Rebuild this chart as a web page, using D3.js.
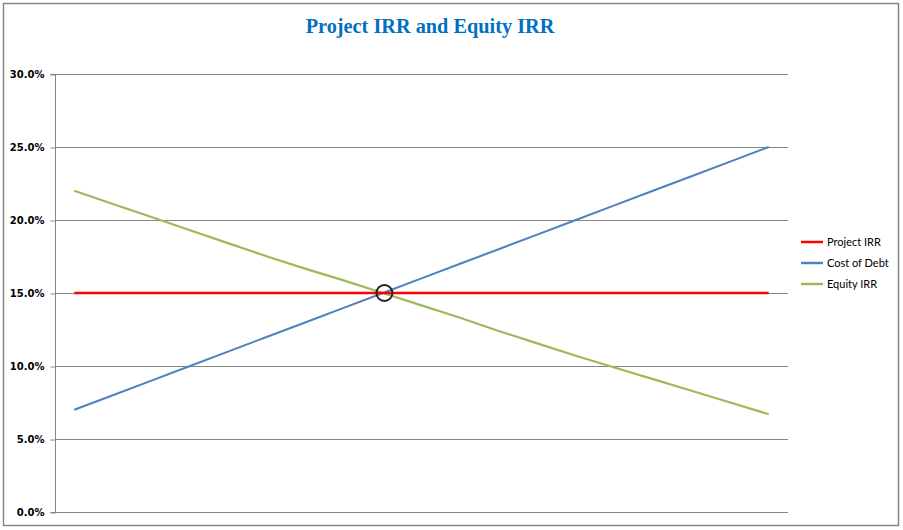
<!DOCTYPE html>
<html><head><meta charset="utf-8">
<script src="https://cdn.jsdelivr.net/npm/d3@7"></script>
<style>body{margin:0;background:#fff}svg{display:block}</style>
</head><body>
<svg id="c" width="903" height="530"></svg>
<script>
const categories = d3.range(19).map(i => "P" + (i + 1));
const projectIRR = [15,15,15,15,15,15,15,15,15,15,15,15,15,15,15,15,15,15,15];
const costOfDebt = [7,8,9,10,11,12,13,14,15,16,17,18,19,20,21,22,23,24,25];
const equityIRR = [22.0,21.1,20.2,19.3,18.4,17.5,16.65,15.85,15.0,14.15,13.3,12.4,11.55,10.7,9.9,9.1,8.3,7.5,6.7];
const yTicks = [0,5,10,15,20,25,30];
const seriesNames = ["Project IRR","Cost of Debt","Equity IRR"];
const seriesColors = ["#FF0000","#4F81BD","#9BBB59"];
const highlightIndex = 8;

const svg = d3.select("#c");
const m = {l:55, r:788, t:74, b:512};

svg.append("rect").attr("x",3.5).attr("y",3.5).attr("width",895).attr("height",522)
  .attr("fill","#fff").attr("stroke","#868686").attr("stroke-width",1.5);

svg.append("text").attr("x",430).attr("y",33).attr("text-anchor","middle")
  .attr("font-family","'Liberation Serif', serif").attr("font-weight","bold")
  .attr("font-size",20.3).attr("fill","#0070C0").text("Project IRR and Equity IRR");

const x = d3.scalePoint().domain(categories).range([m.l, m.r]).padding(0.5);
const y = d3.scaleLinear().domain([0,30]).range([m.b, m.t]);

// gridlines
svg.append("g").selectAll("line").data(yTicks).join("line")
  .attr("x1",m.l).attr("x2",m.r)
  .attr("y1",d=>Math.round(y(d))+0.5).attr("y2",d=>Math.round(y(d))+0.5)
  .attr("stroke","#868686").attr("stroke-width",1);

const yAxis = d3.axisLeft(y).tickValues(yTicks).tickSize(5).tickPadding(6)
  .tickFormat(d => d.toFixed(1) + "%");
const ga = svg.append("g").attr("transform",`translate(${m.l+0.5},0.5)`).call(yAxis);
ga.select(".domain").attr("stroke","#868686").attr("d",`M-5,${m.b}H0V${m.t}H-5`);
ga.selectAll(".tick line").attr("stroke","#868686");
ga.selectAll(".tick text").attr("font-family","'DejaVu Sans', sans-serif")
  .attr("font-weight","bold").attr("font-size",10).attr("fill","#000");

const series = [projectIRR, costOfDebt, equityIRR];
const line = d3.line().x((d,i)=>x(categories[i])).y(d=>y(d));
const widths = [2.6, 2, 2.2];
[1,2,0].forEach(k => {
  svg.append("path").datum(series[k]).attr("d",line).attr("fill","none")
    .attr("stroke",seriesColors[k]).attr("stroke-width",widths[k]).attr("stroke-linejoin","round");
});

svg.append("circle").attr("cx",x(categories[highlightIndex])+1.5).attr("cy",y(costOfDebt[highlightIndex]))
  .attr("r",8).attr("fill","none").attr("stroke","#222").attr("stroke-width",2);

const lg = svg.append("g");
seriesNames.forEach((n,i) => {
  const yy = 242 + i*21;
  lg.append("line").attr("x1",801).attr("x2",823).attr("y1",yy).attr("y2",yy)
    .attr("stroke",seriesColors[i]).attr("stroke-width",2.5);
  lg.append("text").attr("x",827).attr("y",yy+4).attr("font-family","Lato, sans-serif")
    .attr("font-size",11).attr("fill","#000").text(n);
});
</script>
</body></html>
